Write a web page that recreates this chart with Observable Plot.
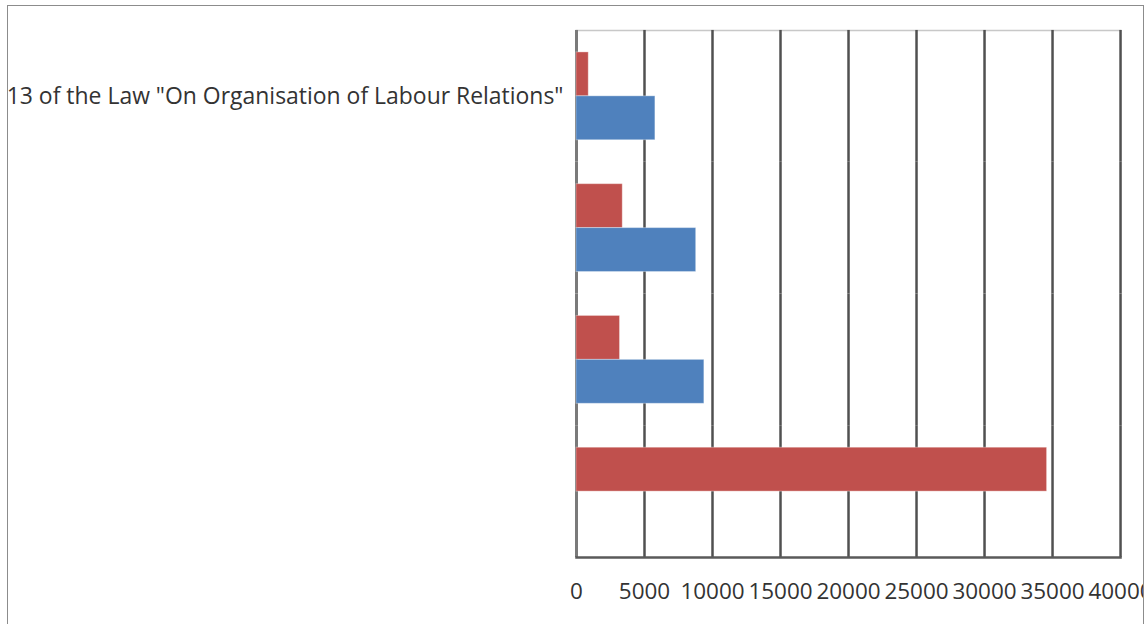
<!DOCTYPE html>
<html>
<head>
<meta charset="utf-8">
<script src="https://cdn.jsdelivr.net/npm/d3@7"></script>
<script src="https://cdn.jsdelivr.net/npm/@observablehq/plot@0.6"></script>
<style>
  html, body { margin: 0; padding: 0; background: #fff; overflow: hidden; }
  #wrap { position: relative; width: 1145px; height: 624px; }
  #frame { position: absolute; left: 7px; top: 5px; width: 1135px; height: 640px; border: 1px solid #8c8c8c; overflow: hidden; }
  #chart { position: absolute; left: -8px; top: -6px; }
</style>
</head>
<body>
<div id="wrap"><div id="frame"><div id="chart"></div></div></div>
<script>
const categories = [
  "13 of the Law \"On Organisation of Labour Relations\"",
  "Category 2",
  "Category 3",
  "Category 4"
];
const shownLabels = [
  "13 of the Law \"On Organisation of Labour Relations\"",
  "",
  "",
  ""
];
const seriesNames = ["Series 2", "Series 1"];
const seriesRed = [900, 3400, 3200, 34600];
const seriesBlue = [5800, 8800, 9400, 0];
const xTicks = [0, 5000, 10000, 15000, 20000, 25000, 30000, 35000, 40000];

const data = [];
categories.forEach((c, i) => {
  data.push({category: c, series: seriesNames[0], value: seriesRed[i]});
  data.push({category: c, series: seriesNames[1], value: seriesBlue[i]});
});

const font = "'Open Sans', sans-serif";
const chart = Plot.plot({
  width: 1145,
  height: 624,
  marginLeft: 577,
  marginRight: 23,
  marginTop: 30,
  marginBottom: 66,
  style: {fontFamily: font, fontSize: "23px", color: "#333333", background: "transparent", overflow: "visible"},
  x: {domain: [0, 40000], axis: null, label: null},
  fy: {domain: categories, padding: 0, label: null, tickSize: 0, tickPadding: 13,
       tickFormat: (d) => shownLabels[categories.indexOf(d)]},
  y: {domain: seriesNames, paddingInner: 0, paddingOuter: 0.5, axis: null},
  color: {domain: seriesNames, range: ["#C0504D", "#4F81BD"]},
  marks: [
    Plot.frame({anchor: "top", stroke: "#c8c8c8", strokeWidth: 1.5, fy: () => categories[0]}),
    Plot.ruleX(xTicks.slice(1), {stroke: "#505050", strokeWidth: 2.5}),
    Plot.ruleX([0], {stroke: "#7a7a7a", strokeWidth: 3}),
    Plot.barX(data, {fy: "category", y: "series", x: "value", fill: "series",
      stroke: "#ffffff", strokeOpacity: 0.35, strokeWidth: 1}),
    Plot.frame({anchor: "bottom", stroke: "#5a5a5a", strokeWidth: 2.5, fy: () => categories[3]}),
    Plot.axisX(xTicks, {anchor: "bottom", label: null, tickSize: 0, tickPadding: 26, tickFormat: d => String(d),
      fontSize: 22.5, fill: "#333333", textAnchor: "middle"})
  ]
});
document.getElementById("chart").appendChild(chart);
</script>
</body>
</html>
